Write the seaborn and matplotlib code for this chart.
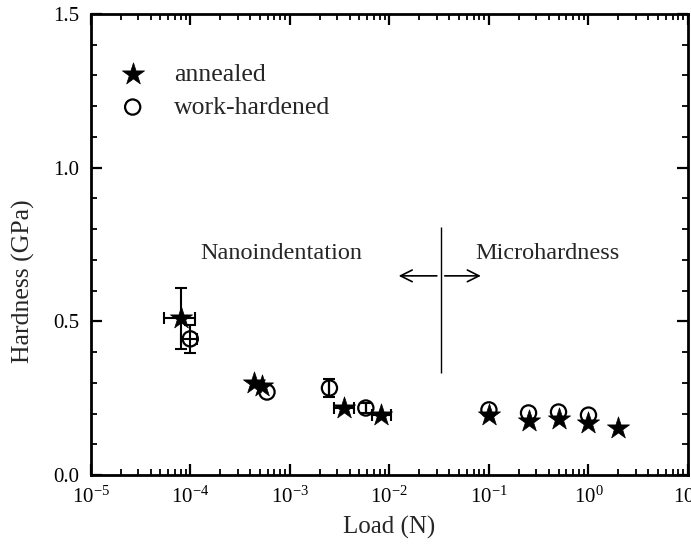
import numpy as np
import pandas as pd
import seaborn as sns
import matplotlib
matplotlib.use("Agg")
import matplotlib.pyplot as plt
from matplotlib.ticker import (FixedLocator, LogLocator, MultipleLocator,
                               NullFormatter, FormatStrFormatter)

# annealed samples (stars)
annealed_load = [8.0e-5, 4.4e-4, 5.2e-4, 3.5e-3, 8.2e-3, 0.1, 0.25, 0.5, 1.0, 2.0]
annealed_hard = [0.51, 0.30, 0.29, 0.218, 0.195, 0.195, 0.177, 0.182, 0.169, 0.153]
annealed_load_lo = [5.4e-5, 4.4e-4, 5.2e-4, 2.77e-3, 6.7e-3, 0.1, 0.25, 0.5, 1.0, 2.0]
annealed_load_hi = [1.12e-4, 4.4e-4, 5.2e-4, 4.4e-3, 1.03e-2, 0.1, 0.25, 0.5, 1.0, 2.0]
annealed_hard_err = [0.10, 0, 0, 0, 0, 0, 0, 0, 0, 0]

# work-hardened samples (open circles)
hardened_load = [1.0e-4, 5.9e-4, 2.5e-3, 5.8e-3, 0.1, 0.25, 0.5, 1.0]
hardened_hard = [0.443, 0.27, 0.283, 0.218, 0.212, 0.202, 0.205, 0.195]
hardened_load_lo = [8.1e-5, 5.9e-4, 2.5e-3, 5.8e-3, 0.1, 0.25, 0.5, 1.0]
hardened_load_hi = [1.17e-4, 5.9e-4, 2.5e-3, 5.8e-3, 0.1, 0.25, 0.5, 1.0]
hardened_hard_err = [0.045, 0, 0.03, 0.015, 0, 0, 0, 0]

load_ticks = [1e-5, 1e-4, 1e-3, 1e-2, 1e-1, 1e0, 1e1]

# regime boundary annotation
boundary_load = 0.033
boundary_span = (0.332, 0.808)
arrow_y = 0.648
arrow_left = (0.030, 0.0124)
arrow_right = (0.036, 0.083)

sns.set_theme(style="ticks")
plt.rcParams["font.family"] = ["Liberation Serif", "DejaVu Serif"]
plt.rcParams["mathtext.fontset"] = "custom"
plt.rcParams["mathtext.rm"] = "Liberation Serif"
plt.rcParams["axes.unicode_minus"] = False

ann = pd.DataFrame({"load": annealed_load, "hard": annealed_hard,
                    "lo": annealed_load_lo, "hi": annealed_load_hi,
                    "yerr": annealed_hard_err})
wh = pd.DataFrame({"load": hardened_load, "hard": hardened_hard,
                   "lo": hardened_load_lo, "hi": hardened_load_hi,
                   "yerr": hardened_hard_err})

fig = plt.figure(figsize=(6.91, 5.47), dpi=100)
ax = fig.add_axes([0.1313, 0.1316, 0.8644, 0.8428])

# error bars first
for df in (ann, wh):
    sub = df[(df.hi > df.lo) | (df.yerr > 0)]
    xerr = np.vstack([sub.load - sub.lo, sub.hi - sub.load])
    ax.errorbar(sub.load, sub.hard, xerr=xerr, yerr=sub.yerr, fmt="none",
                ecolor="black", elinewidth=1.5, capsize=4, capthick=1.5, zorder=2)

sns.scatterplot(data=ann, x="load", y="hard", marker="*", s=280, color="black",
                edgecolor="black", linewidth=0.5, label="annealed", ax=ax, zorder=3)
sns.scatterplot(data=wh, x="load", y="hard", marker="o", s=120, color="black",
                facecolor="none", edgecolor="black", linewidth=1.6,
                label="work-hardened", ax=ax, zorder=4)

ax.set_xscale("log")
ax.set_xlim(1e-5, 1e1)
ax.set_ylim(0, 1.5)
ax.xaxis.set_major_locator(FixedLocator(load_ticks))
ax.xaxis.set_minor_locator(LogLocator(base=10, subs=np.arange(2, 10), numticks=20))
ax.xaxis.set_minor_formatter(NullFormatter())
ax.yaxis.set_major_locator(MultipleLocator(0.5))
ax.yaxis.set_minor_locator(MultipleLocator(0.1))
ax.yaxis.set_major_formatter(FormatStrFormatter("%.1f"))

ax.tick_params(which="both", direction="in", top=True, right=True,
               labelsize=15, colors="black")
ax.tick_params(which="major", length=8, width=1.6, pad=8)
ax.tick_params(which="minor", length=4.5, width=1.3)
for sp in ax.spines.values():
    sp.set_linewidth(2)
    sp.set_color("black")

ax.set_xlabel("Load (N)", fontsize=18, labelpad=6)
ax.set_ylabel("Hardness (GPa)", fontsize=18.5)
ax.yaxis.set_label_coords(-0.093, 0.42)

ax.vlines(boundary_load, *boundary_span, color="black", linewidth=1)
for x0, x1 in (arrow_left, arrow_right):
    ax.annotate("", xy=(x1, arrow_y), xytext=(x0, arrow_y),
                arrowprops=dict(arrowstyle="->,head_length=0.7,head_width=0.35",
                                color="black", lw=1.2, shrinkA=0, shrinkB=0))
ax.text(8.3e-4, 0.722, "Nanoindentation", fontsize=17.5, ha="center", va="center")
ax.text(0.39, 0.722, "Microhardness", fontsize=17.5, ha="center", va="center")

ax.legend(loc="upper left", bbox_to_anchor=(0.01, 0.917), frameon=False,
          fontsize=18.5, handletextpad=0.6, labelspacing=0.4, borderaxespad=0)

fig.savefig("out.png", dpi=100)
